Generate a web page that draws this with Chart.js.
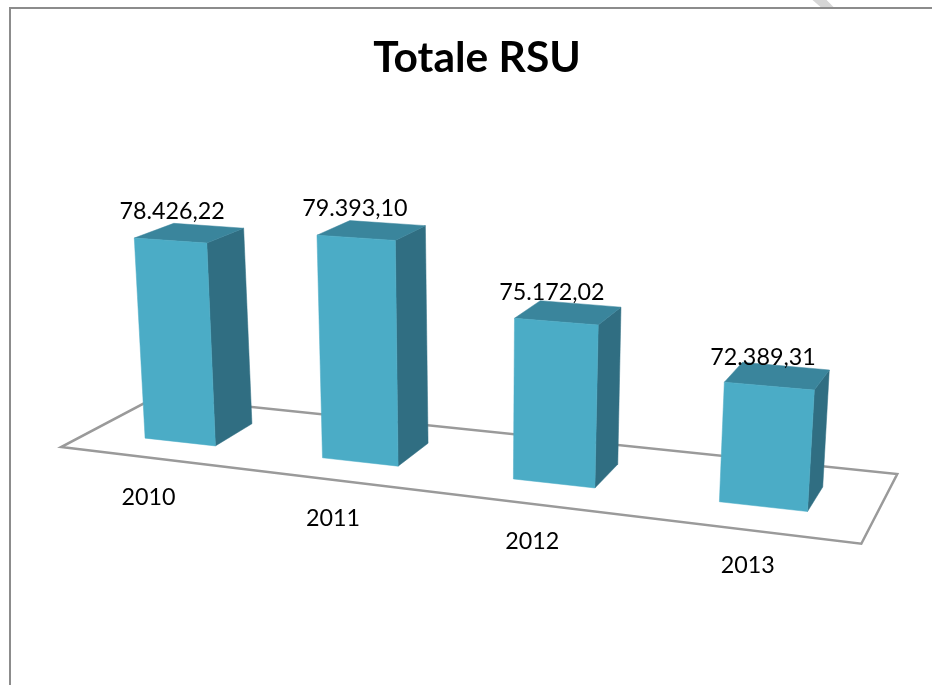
<!DOCTYPE html>
<html lang="it">
<head>
<meta charset="utf-8">
<title>Totale RSU</title>
<style>
  html, body { margin: 0; padding: 0; background: #fff; overflow: hidden; }
  #frame { position: absolute; left: 9px; top: 7px; width: 940px; height: 700px; border: 2px solid #8c8c8c; }
  #mark { position: absolute; left: 808px; top: 0; width: 30px; height: 7px; background: #d6d6d6;
          clip-path: polygon(15% 0, 62% 0, 85% 100%, 42% 100%); }
  canvas { position: absolute; left: 0; top: 0; }
</style>
<script src="https://cdn.jsdelivr.net/npm/chart.js@4/dist/chart.umd.min.js"></script>
</head>
<body>
<div id="mark"></div>
<div id="frame"></div>
<canvas id="rsuChart" width="932" height="685"></canvas>
<script>
const years = ["2010", "2011", "2012", "2013"];
const totals = [78426.22, 79393.10, 75172.02, 72389.31];

const axisMin = 65100;
const axisMax = 81000;
const pxPerUnit = 0.0157;

// Colours of the box faces
const frontColor = "#4BACC6";
const sideColor = "#306E82";
const topColor = "#3A859C";

// Perspective of the picture: plot plane -> screen, and the point depth runs to
const vanish = { x: 1230, y: -170 };
const boxDepth = 0.036;

let activeChart = null;

function project(i, h) {
    const w = 1 - 0.0356 * i - 0.000154 * h;
    return {
        x: (180 + 167.2 * i - 0.0727 * h) / w,
        y: (442 + 3.5 * i - h) / w
    };
}

function toDepth(p, f) {
    return { x: p.x + f * (vanish.x - p.x), y: p.y + f * (vanish.y - p.y) };
}

// chart pixels -> category index and height above the floor
function plotIndex(chart, px) {
    const area = chart.chartArea;
    return (px - area.left) / area.width * years.length - 0.5;
}

function plotHeight(chart, py) {
    const area = chart.chartArea;
    return (area.bottom - py) / area.height * (axisMax - axisMin) * pxPerUnit;
}

function fillFace(ctx, points, color) {
    ctx.beginPath();
    points.forEach((p, n) => n ? ctx.lineTo(p.x, p.y) : ctx.moveTo(p.x, p.y));
    ctx.closePath();
    ctx.fillStyle = color;
    ctx.strokeStyle = color;
    ctx.lineWidth = 0.5;
    ctx.fill();
    ctx.stroke();
}

class BoxElement extends Chart.BarElement {
    static id = "box3d";
    static defaults = Chart.BarElement.defaults;
    static defaultRoutes = Chart.BarElement.defaultRoutes;

    draw(ctx) {
        const chart = activeChart;
        const { x, y, width } = this.getProps(["x", "y", "width"]);
        const left = plotIndex(chart, x - width / 2);
        const right = plotIndex(chart, x + width / 2);
        const h = plotHeight(chart, y);

        const bl = project(left, 0);
        const br = project(right, 0);
        const tl = project(left, h);
        const tr = project(right, h);

        ctx.save();
        fillFace(ctx, [br, tr, toDepth(tr, boxDepth), toDepth(br, boxDepth)], sideColor);
        fillFace(ctx, [tl, tr, toDepth(tr, boxDepth), toDepth(tl, boxDepth)], topColor);
        fillFace(ctx, [bl, br, tr, tl], frontColor);
        ctx.restore();
    }
}

class BoxController extends Chart.BarController {
    static id = "box3d";
    static defaults = { ...Chart.BarController.defaults, dataElementType: "box3d" };
    static overrides = Chart.BarController.overrides;
}

Chart.register(BoxElement, BoxController);

// Floor under the boxes
const floorPlugin = {
    id: "floor",
    beforeDatasetsDraw(chart) {
        activeChart = chart;
        const ctx = chart.ctx;
        const a = project(-0.53, 0);
        const b = project(years.length - 0.5, 0);
        const corners = [
            toDepth(a, -0.025),
            toDepth(b, -0.036),
            toDepth(b, 0.065),
            toDepth(a, 0.058)
        ];
        ctx.save();
        ctx.beginPath();
        corners.forEach((p, n) => n ? ctx.lineTo(p.x, p.y) : ctx.moveTo(p.x, p.y));
        ctx.closePath();
        ctx.strokeStyle = "#9a9a9a";
        ctx.lineWidth = 2.5;
        ctx.stroke();
        ctx.restore();
    }
};

// Value labels above the boxes and years in front of the floor
const labelPlugin = {
    id: "labels",
    afterDatasetsDraw(chart) {
        const ctx = chart.ctx;
        const meta = chart.getDatasetMeta(0);
        ctx.save();
        ctx.font = "23.3px Lato";
        ctx.fillStyle = "#000";
        ctx.textAlign = "center";
        ctx.textBaseline = "middle";
        meta.data.forEach((bar, n) => {
            const i = plotIndex(chart, bar.x);
            const top = project(i, plotHeight(chart, bar.y));
            const foot = project(i, 0);
            const text = totals[n].toLocaleString("it-IT", { minimumFractionDigits: 2, maximumFractionDigits: 2 });
            ctx.fillText(text, (foot.x + top.x) / 2 - 3, top.y - 29);

            const front = toDepth(foot, -0.03 - 0.001 * n);
            ctx.fillText(years[n], front.x, front.y + 37);
        });
        ctx.restore();
    }
};

new Chart(document.getElementById("rsuChart"), {
    type: "box3d",
    data: {
        labels: years,
        datasets: [{
            label: "Totale RSU",
            data: totals,
            backgroundColor: frontColor,
            barPercentage: 0.405,
            categoryPercentage: 1
        }]
    },
    options: {
        responsive: false,
        animation: false,
        devicePixelRatio: 1,
        layout: { padding: { left: 22, top: 33, bottom: 120 } },
        plugins: {
            legend: { display: false },
            tooltip: { enabled: false },
            title: {
                display: true,
                text: "Totale RSU",
                color: "#000",
                font: { family: "Lato", size: 42.5, weight: "bold" },
                padding: { top: 0, bottom: 20 }
            }
        },
        scales: {
            x: { display: false },
            y: { display: false, min: axisMin, max: axisMax }
        }
    },
    plugins: [floorPlugin, labelPlugin]
});
</script>
</body>
</html>
